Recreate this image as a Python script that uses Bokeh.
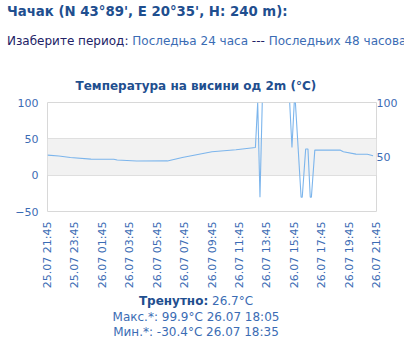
import pandas as pd
import numpy as np
from bokeh.plotting import figure
from bokeh.layouts import column
from bokeh.models import (Range1d, FixedTicker, DatetimeTickFormatter, BoxAnnotation,
                          LinearAxis, Div)
from bokeh.embed import file_html
from bokeh.resources import INLINE

# ---- data ----
times = ["2024-07-25 21:45", "2024-07-25 22:35", "2024-07-25 23:25", "2024-07-26 00:55",
         "2024-07-26 02:35", "2024-07-26 02:50", "2024-07-26 04:15", "2024-07-26 06:30",
         "2024-07-26 07:35", "2024-07-26 09:45", "2024-07-26 11:30", "2024-07-26 12:55",
         "2024-07-26 13:05", "2024-07-26 13:15", "2024-07-26 13:25", "2024-07-26 14:30",
         "2024-07-26 15:25", "2024-07-26 15:35", "2024-07-26 15:45", "2024-07-26 15:50",
         "2024-07-26 16:15", "2024-07-26 16:20", "2024-07-26 16:35", "2024-07-26 16:45",
         "2024-07-26 16:55", "2024-07-26 17:00", "2024-07-26 17:15", "2024-07-26 19:05",
         "2024-07-26 19:20", "2024-07-26 20:15", "2024-07-26 21:05", "2024-07-26 21:30"]
temps = [27.6, 26.3, 24.4, 22.1,
         22.0, 20.8, 19.4, 19.6,
         24.3, 32.2, 35.0, 38.0,
         99.9, -30.4, 99.9, np.nan,
         99.9, 38.0, 99.9, 99.9,
         -30.4, -30.4, 36.0, 36.0,
         -30.4, -30.4, 34.5, 34.5,
         32.2, 29.0, 28.8, 26.7]
tick_times = ["2024-07-25 21:45", "2024-07-25 23:45", "2024-07-26 01:45", "2024-07-26 03:45",
              "2024-07-26 05:45", "2024-07-26 07:45", "2024-07-26 09:45", "2024-07-26 11:45",
              "2024-07-26 13:45", "2024-07-26 15:45", "2024-07-26 17:45", "2024-07-26 19:45",
              "2024-07-26 21:45"]
y_ticks = [-50, 0, 50, 100]
right_ticks = [50, 100]

header = "Чачак (N 43°89', E 20°35', H: 240 m):"
period_label = "Изаберите период:"
link1 = "Последња 24 часа"
sep = "---"
link2 = "Последњих 48 часова"
chart_title = "Температура на висини од 2m (°C)"
current_lbl = "Тренутно:"
current_val = "26.7°C"
max_txt = "Макс.*: 99.9°C 26.07 18:05"
min_txt = "Мин.*: -30.4°C 26.07 18:35"

FONT = "DejaVu Sans"
BLUE = "#3b6cb4"
DARK = "#1f4f8f"
NAVY = "#222266"

W = 404
TOP_H, FIG_H, BOT_H = 62, 230, 60
FL, FR = 47, 376           # frame left / right in page pixels
FT, FB = 40, 149           # frame top / bottom inside the figure

t = pd.to_datetime(times)
ticks_ms = [pd.Timestamp(s).value / 1e6 for s in tick_times]

# ---- header ----
top_html = (
    f'<div style="font-family:\'{FONT}\';white-space:nowrap;overflow:hidden;width:{W}px;">'
    f'<div style="font-size:13.3px;font-weight:bold;color:{DARK};line-height:24px;padding-left:7px;">{header}</div>'
    f'<div style="font-size:12px;line-height:20px;margin-top:7px;padding-left:7px;">'
    f'<span style="color:{NAVY}">{period_label}</span> '
    f'<span style="color:{BLUE}">{link1}</span> '
    f'<span style="color:{NAVY}">{sep}</span> '
    f'<span style="color:{BLUE}">{link2}</span></div></div>'
)
top_div = Div(text=top_html, width=W, height=TOP_H, margin=0)

# ---- chart ----
p = figure(width=W, height=FIG_H,
           output_backend="svg", toolbar_location=None,
           x_axis_type="datetime", title=chart_title,
           x_range=Range1d(ticks_ms[0], ticks_ms[-1]), y_range=Range1d(-50, 100),
           min_border_left=FL, min_border_right=W - FR, min_border_top=FT,
           min_border_bottom=FIG_H - FB, margin=0)
p.extra_y_ranges = {"right": Range1d(0, 100)}
p.background_fill_color = "white"
p.border_fill_color = "white"
p.outline_line_color = "#d8d8d8"

p.title.align = "left"
p.title.offset = 75 - FL
p.title.standoff = 19
p.title.text_font = FONT
p.title.text_font_size = "12px"
p.title.text_font_style = "bold"
p.title.text_color = DARK

p.add_layout(BoxAnnotation(bottom=0, top=50, fill_color="#f2f2f2", fill_alpha=1.0,
                           line_alpha=0, level="underlay"))

p.line(t, temps, line_color="#7cb5ec", line_width=1.1)

p.xgrid.grid_line_color = None
p.ygrid.ticker = FixedTicker(ticks=y_ticks)
p.ygrid.grid_line_color = "#d8d8d8"

p.add_layout(LinearAxis(y_range_name="right", ticker=FixedTicker(ticks=right_ticks)), "right")

p.yaxis[0].ticker = FixedTicker(ticks=y_ticks)
p.xaxis.ticker = FixedTicker(ticks=ticks_ms)
p.xaxis.formatter = DatetimeTickFormatter(minutes="%d.%m %H:%M", hourmin="%d.%m %H:%M",
                                          hours="%d.%m %H:%M", days="%d.%m %H:%M")
p.xaxis.major_label_orientation = np.pi / 2
for ax in list(p.xaxis) + list(p.yaxis):
    ax.axis_line_color = None
    ax.major_tick_line_color = None
    ax.minor_tick_line_color = None
    ax.major_tick_out = 0
    ax.major_tick_in = 0
    ax.minor_tick_out = 0
    ax.major_label_text_color = BLUE
    ax.major_label_text_font = FONT
    ax.major_label_text_font_size = "11px"
p.yaxis[0].major_label_standoff = 9
p.yaxis[1].major_label_standoff = 0
p.xaxis.major_label_standoff = 10

# ---- footer ----
bot_html = (
    f'<div style="font-family:\'{FONT}\';text-align:center;width:392px;'
    f'padding-top:2px;line-height:15.5px;color:{BLUE};white-space:nowrap;">'
    f'<div style="font-size:12px;"><b style="color:{DARK}">{current_lbl}</b> {current_val}</div>'
    f'<div style="font-size:12px;">{max_txt}</div>'
    f'<div style="font-size:12px;">{min_txt}</div></div>'
)
bot_div = Div(text=bot_html, width=W, height=BOT_H, margin=0)

root = column(top_div, p, bot_div, spacing=0, margin=0,
              styles={"overflow": "hidden", "width": f"{W}px", "height": "352px"})

open("out.html", "w").write(file_html(root, INLINE))
